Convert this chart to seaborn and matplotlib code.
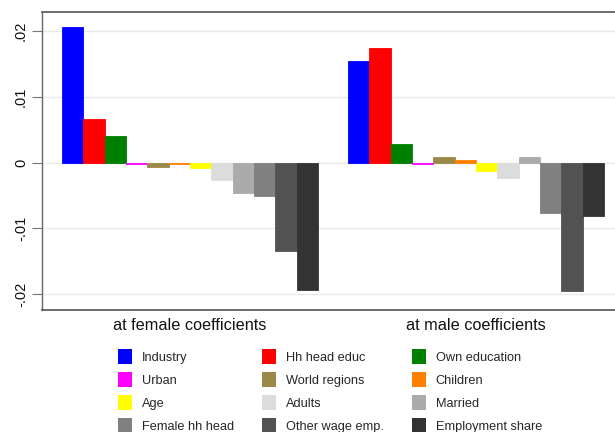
import matplotlib
matplotlib.use("Agg")
import matplotlib.pyplot as plt
import seaborn as sns
import pandas as pd
from matplotlib.patches import Patch

# Decomposition components (in legend order)
components = [
    "Industry", "Hh head educ", "Own education",
    "Urban", "World regions", "Children",
    "Age", "Adults", "Married",
    "Female hh head", "Other wage emp.", "Employment share",
]
colors = [
    "#0000FF", "#FF0000", "#008000",
    "#FF00FF", "#9C8847", "#FF7F00",
    "#FFFF00", "#DCDCDC", "#ABABAB",
    "#808080", "#525252", "#333333",
]
groups = ["at female coefficients", "at male coefficients"]

female_vals = [0.0206, 0.00665, 0.0040, -0.0002, -0.0007, -0.0002,
               -0.0009, -0.0027, -0.0047, -0.0051, -0.0134, -0.0194]
male_vals = [0.0155, 0.0174, 0.00285, -0.00015, 0.0008, 0.0004,
             -0.0013, -0.0023, 0.0008, -0.0077, -0.0195, -0.0082]

ytick_vals = [-0.02, -0.01, 0.0, 0.01, 0.02]
ytick_labels = ["-.02", "-.01", "0", ".01", ".02"]

df = pd.DataFrame({
    "group": [groups[0]] * len(components) + [groups[1]] * len(components),
    "component": components * 2,
    "value": female_vals + male_vals,
})

sns.set_style("white")
plt.rcParams["font.family"] = ["Liberation Sans", "DejaVu Sans"]

W, H = 615, 432
fig = plt.figure(figsize=(W / 100, H / 100), dpi=100)
ax = fig.add_axes([42 / W, (H - 310) / H, 582 / W, (310 - 11.7) / H])

for y in ytick_vals:
    ax.axhline(y, color="#EAEAEA", lw=1.0, zorder=0)

sns.barplot(
    data=df, x="group", y="value", hue="component",
    order=groups, hue_order=components,
    palette=dict(zip(components, colors)),
    width=0.894, linewidth=0, saturation=1, errorbar=None,
    legend=False, ax=ax, zorder=2,
)
# thin outline in each bar's own colour so near-zero bars stay visible
for bar in ax.patches:
    bar.set_edgecolor(bar.get_facecolor())
    bar.set_linewidth(0.6)

ax.set_xlim(-0.5166, 1.5166)
ax.set_ylim(-0.02243, 0.02294)
ax.set_yticks(ytick_vals)
ax.set_yticklabels(ytick_labels, rotation=90, va="center", fontsize=10.5, color="#111111")
ax.tick_params(axis="y", length=7, width=0.8, color="#777777", pad=3, left=True)
ax.tick_params(axis="x", length=0, pad=6, labelsize=11.7, labelcolor="#111111")
ax.set_xlabel("")
ax.set_ylabel("")

ax.spines["right"].set_visible(False)
ax.spines["left"].set_color("#666666")
ax.spines["left"].set_linewidth(1.0)
for s in ("top", "bottom"):
    ax.spines[s].set_color("#555555")
    ax.spines[s].set_linewidth(1.2)

# Legend: fill row by row across three columns
ncol = 3
nrow = len(components) // ncol
order = [r * ncol + c for c in range(ncol) for r in range(nrow)]
handles = [Patch(facecolor=colors[i], edgecolor="none") for i in order]
labels = [components[i] for i in order]
fig.legend(
    handles, labels, ncol=ncol, loc="upper left",
    bbox_to_anchor=(118 / W, (H - 349) / H),
    frameon=False, fontsize=9.2, handlelength=1.1, handleheight=1.45,
    handletextpad=0.76, labelspacing=0.62, columnspacing=2.2,
    borderpad=0, borderaxespad=0,
)

fig.savefig("out.png", dpi=100)
